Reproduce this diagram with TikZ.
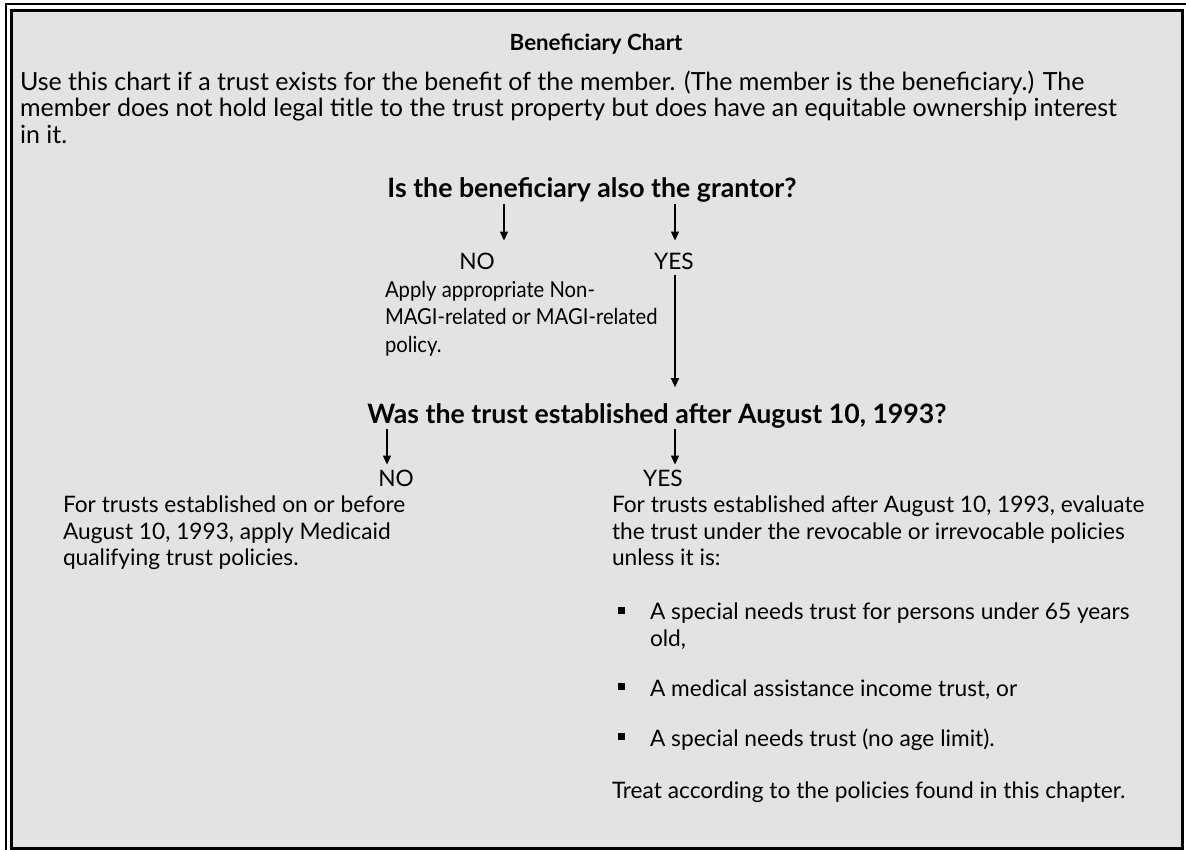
\documentclass[tikz,border=0pt]{standalone}
\usepackage{fontspec}
\setmainfont{Lato}
\newfontfamily\narrowfont[FakeStretch=0.92]{Lato}
\usetikzlibrary{arrows.meta}
\definecolor{boxgray}{HTML}{E3E3E3}
\begin{document}
\begin{tikzpicture}[x=1pt,y=-1pt,
  txt/.style={inner sep=0pt,outer sep=0pt,font=\fontsize{22.7}{26.5}\selectfont,anchor=base west},
  ptxt/.style={inner sep=0pt,outer sep=0pt,font=\fontsize{22.7}{26.5}\selectfont,anchor=north west,align=left},
  qtxt/.style={inner sep=0pt,outer sep=0pt,font=\fontsize{26.7}{30}\selectfont\bfseries,anchor=base},
  ttl/.style={inner sep=0pt,outer sep=0pt,font=\fontsize{22.3}{26.5}\selectfont\bfseries,anchor=base},
  lab/.style={inner sep=0pt,outer sep=0pt,font=\fontsize{22.7}{26.5}\selectfont,anchor=base},
  arr/.style={line width=1.3pt,-{Triangle[length=9pt,width=8pt]}},
  bul/.style={fill=black,inner sep=0pt,minimum size=7pt,draw=none}]
\useasboundingbox (0,0) rectangle (1186,850);
% frame
\fill[boxgray] (11,11) rectangle (1182,848);
\draw[line width=3pt] (11,11) rectangle (1182,848);
\draw[line width=2pt] (6,850) -- (6,4) -- (1186,4);
% title and intro
\node[ttl] (title) at (596,51) {Beneficiary Chart};
\node[ptxt,font=\fontsize{25}{26.5}\selectfont] (intro) at (20,71) {Use this chart if a trust exists for the benefit of the member. (The member is the beneficiary.) The\\
member does not hold legal title to the trust property but does have an equitable ownership interest\\
in it.};
% question 1
\node[qtxt] (q1) at (592,198) {Is the beneficiary also the grantor?};
\node[lab] (no1) at (477,270) {NO};
\node[lab] (yes1) at (674,270) {YES};
\node[ptxt,font=\narrowfont\fontsize{22}{27.5}\selectfont] (apply) at (385,281) {Apply appropriate Non-\\MAGI-related or MAGI-related\\policy.};
% question 2
\node[qtxt] (q2) at (657,423) {Was the trust established after August 10, 1993?};
\node[lab] (no2) at (396,486) {NO};
\node[lab] (yes2) at (663,486) {YES};
\node[ptxt] (before) at (63,496) {For trusts established on or before\\August 10, 1993, apply Medicaid\\qualifying trust policies.};
\node[ptxt] (after) at (612,496) {For trusts established after August 10, 1993, evaluate\\the trust under the revocable or irrevocable policies\\unless it is:};
% bullets
\node[ptxt] (b1) at (650,603) {A special needs trust for persons under 65 years\\old,};
\node[txt] (b2) at (650,696) {A medical assistance income trust, or};
\node[txt] (b3) at (650,746) {A special needs trust (no age limit).};
\node[bul] (s1) at (621,610) {};
\node[bul] (s2) at (621,686) {};
\node[bul] (s3) at (621,736) {};
\node[txt] (treat) at (612,798) {Treat according to the policies found in this chapter.};
% connectors
\draw[arr,shorten <=1pt,shorten >=13pt] (q1.south -| 504,0) -- (no1.north -| 504,0);
\draw[arr,shorten <=1pt,shorten >=13pt] (q1.south -| 675,0) -- (yes1.north -| 675,0);
\draw[arr,shorten <=5pt,shorten >=16pt] (yes1.south -| 675,0) -- (q2.north -| 675,0);
\draw[arr,shorten <=1pt,shorten >=5pt] (q2.south -| 387,0) -- (no2.north -| 387,0);
\draw[arr,shorten <=1pt,shorten >=5pt] (q2.south -| 675,0) -- (yes2.north -| 675,0);
\end{tikzpicture}
\end{document}
